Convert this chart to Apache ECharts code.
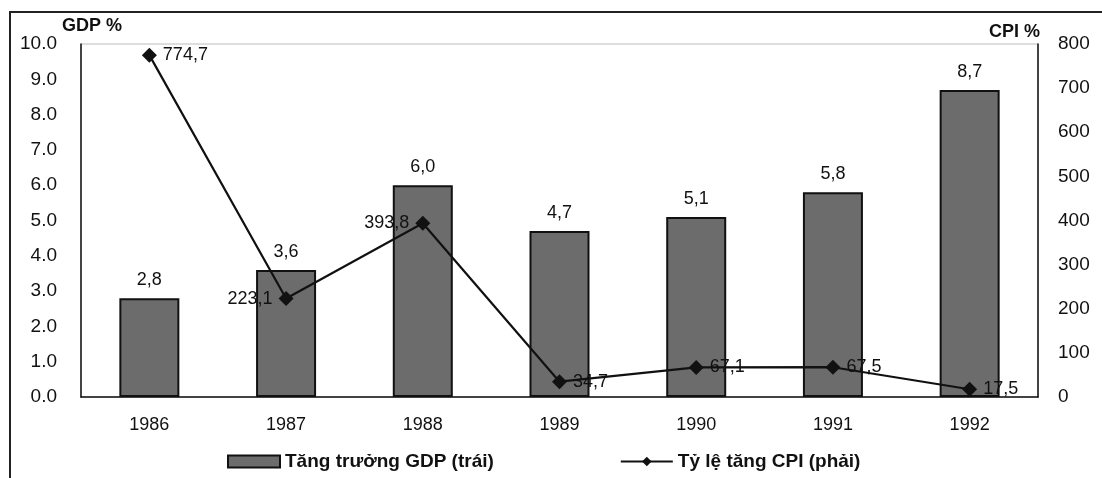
<!DOCTYPE html>
<html>
<head>
<meta charset="utf-8">
<script src="https://cdn.jsdelivr.net/npm/echarts@6/dist/echarts.min.js"></script>
<style>
  html, body { margin: 0; padding: 0; background: #fff; }
  #chart { width: 1102px; height: 478px; }
</style>
</head>
<body>
<div id="chart"></div>
<script>
var years = ["1986", "1987", "1988", "1989", "1990", "1991", "1992"];
var gdpGrowth = [2.8, 3.6, 6.0, 4.7, 5.1, 5.8, 8.7];
var cpiGrowth = [774.7, 223.1, 393.8, 34.7, 67.1, 67.5, 17.5];
var gdpTicks = { min: 0, max: 10, step: 1 };
var cpiTicks = { min: 0, max: 800, step: 100 };
// where each CPI label sits relative to its marker
var cpiLabelSide = ["right", "left", "left", "right", "right", "right", "right"];

var font = "'Liberation Sans', Arial, sans-serif";
var chartDom = document.getElementById("chart");
var myChart = echarts.init(chartDom);

function comma(v, d) {
  return v.toFixed(d).replace(".", ",");
}

var cpiPoints = cpiGrowth.map(function (v, i) {
  return { value: v, label: { position: cpiLabelSide[i] } };
});

var option = {
  animation: false,
  textStyle: { fontFamily: font, color: "#111" },
  grid: {
    left: 81, right: 64, top: 44, bottom: 81,
    show: true, borderColor: "#bbb", borderWidth: 1
  },
  legend: {
    bottom: 2,
    left: 222,
    itemGap: 126,
    itemWidth: 52,
    itemHeight: 12,
    textStyle: { fontFamily: font, fontSize: 19, fontWeight: "bold", color: "#111" },
    data: [
      { name: "Tăng trưởng GDP (trái)", icon: "rect" },
      { name: "Tỷ lệ tăng CPI (phải)" }
    ]
  },
  xAxis: {
    type: "category",
    data: years,
    axisLine: { lineStyle: { color: "#111", width: 1.5 } },
    axisTick: { show: false },
    axisLabel: { fontSize: 18, color: "#111", margin: 19, fontFamily: font }
  },
  yAxis: [
    {
      type: "value",
      min: gdpTicks.min, max: gdpTicks.max, interval: gdpTicks.step,
      name: "GDP %",
      nameLocation: "end",
      nameGap: 2,
      nameTextStyle: { fontSize: 18, fontWeight: "bold", color: "#111", align: "left", padding: [0, 0, 0, -19] },
      axisLine: { show: true, lineStyle: { color: "#111", width: 1.5 } },
      axisTick: { show: false },
      splitLine: { show: false },
      axisLabel: { fontSize: 19, color: "#111", margin: 24, fontFamily: font,
        formatter: function (v) { return v.toFixed(1); } }
    },
    {
      type: "value",
      min: cpiTicks.min, max: cpiTicks.max, interval: cpiTicks.step,
      name: "CPI %",
      nameLocation: "end",
      nameGap: 3,
      nameTextStyle: { fontSize: 18, fontWeight: "bold", color: "#111", align: "right", padding: [0, -2, 0, 0] },
      axisLine: { show: true, lineStyle: { color: "#111", width: 1.5 } },
      axisTick: { show: false },
      splitLine: { show: false },
      axisLabel: { fontSize: 19, color: "#111", margin: 20, fontFamily: font }
    }
  ],
  series: [
    {
      name: "Tăng trưởng GDP (trái)",
      type: "bar",
      yAxisIndex: 0,
      barWidth: 60,
      data: gdpGrowth,
      itemStyle: { color: "#6c6c6c", borderColor: "#111", borderWidth: 2 },
      label: {
        show: true, position: "top", distance: 9,
        fontSize: 18, color: "#111", fontFamily: font,
        formatter: function (p) { return comma(p.value, 1); }
      }
    },
    {
      name: "Tỷ lệ tăng CPI (phải)",
      type: "line",
      yAxisIndex: 1,
      data: cpiPoints,
      symbol: "diamond",
      symbolSize: 15,
      lineStyle: { color: "#111", width: 2.2 },
      itemStyle: { color: "#111" },
      label: {
        show: true, position: "right", distance: 6,
        fontSize: 18, color: "#111", fontFamily: font,
        formatter: function (p) { return comma(p.value, 1); }
      },
      z: 3
    }
  ],
  graphic: [
    {
      type: "polyline",
      shape: { points: [[10, 478], [10, 12], [1102, 12]] },
      style: { stroke: "#222", lineWidth: 2, fill: null }
    }
  ]
};

option && myChart.setOption(option);
</script>
</body>
</html>
